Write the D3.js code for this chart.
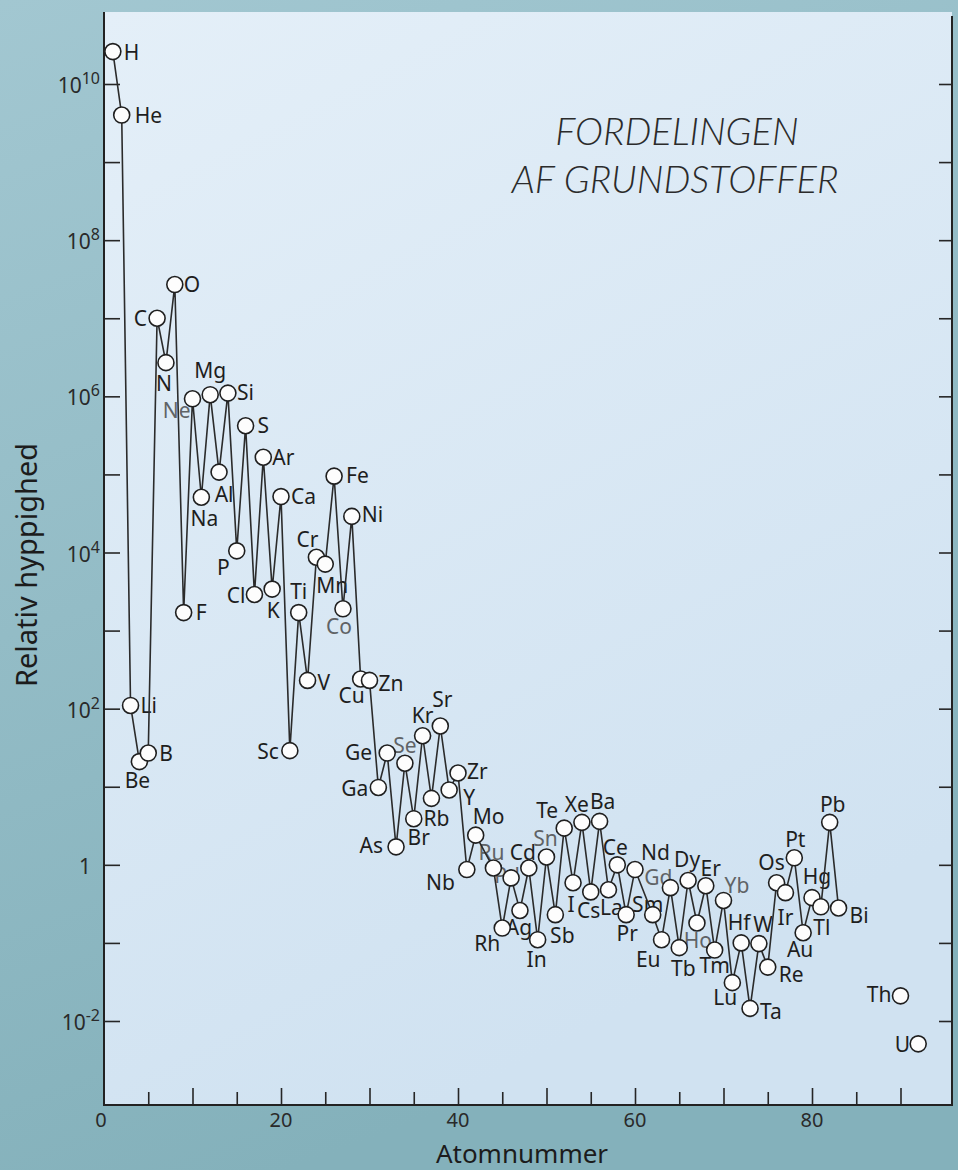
<!DOCTYPE html>
<html>
<head>
<meta charset="utf-8">
<script src="https://cdn.jsdelivr.net/npm/d3@7"></script>
<style>
  html, body { margin: 0; padding: 0; background: #8fbac5; }
  svg { display: block; }
</style>
</head>
<body>
<div id="chart-area"></div>
<script>
// data
const symbols = ['H','He','Li','Be','B','C','N','O','F','Ne','Na','Mg','Al','Si','P','S','Cl','Ar','K','Ca',
    'Sc','Ti','V','Cr','Mn','Fe','Co','Ni','Cu','Zn','Ga','Ge','As','Se','Br','Kr','Rb','Sr','Y','Zr',
    'Nb','Mo','Ru','Rh','Pd','Ag','Cd','In','Sn','Sb','Te','I','Xe','Cs','Ba','La','Ce','Pr','Nd',
    'Sm','Eu','Gd','Tb','Dy','Ho','Er','Tm','Yb','Lu','Hf','Ta','W','Re','Os','Ir','Pt','Au','Hg',
    'Tl','Pb','Bi','Th','U'];
const atomicNumbers = [1,2,3,4,5,6,7,8,9,10,11,12,13,14,15,16,17,18,19,20,
    21,22,23,24,25,26,27,28,29,30,31,32,33,34,35,36,37,38,39,40,
    41,42,44,45,46,47,48,49,50,51,52,53,54,55,56,57,58,59,60,
    62,63,64,65,66,67,68,69,70,71,72,73,74,75,76,77,78,79,80,
    81,82,83,90,92];
const abundance = [2.6e10, 4.0e9, 1.1e2, 21, 27, 1.0e7, 2.7e6, 2.7e7, 1.7e3, 9.3e5, 5.1e4, 1.05e6, 1.07e5, 1.1e6, 1.05e4, 4.2e5, 2.9e3, 1.66e5, 3.4e3, 5.2e4,
    29, 1.7e3, 2.3e2, 8.7e3, 7.1e3, 9.5e4, 1.9e3, 2.9e4, 2.4e2, 2.3e2, 9.8, 27, 1.7, 20, 3.9, 45, 7.1, 60, 9.1, 15,
    0.87, 2.4, 0.91, 0.155, 0.68, 0.26, 0.91, 0.11, 1.26, 0.23, 2.95, 0.59, 3.5, 0.45, 3.6, 0.48, 1.0, 0.23, 0.87,
    0.23, 0.11, 0.51, 0.087, 0.63, 0.18, 0.54, 0.081, 0.35, 0.031, 0.10, 0.0145, 0.098, 0.049, 0.59, 0.44, 1.23, 0.135, 0.38,
    0.29, 3.5, 0.28, 0.021, 0.0051];
// elements joined by the zig-zag line (Th and U stand alone)
const lastConnected = 83;

const yTickPowers = [-2, -1, 0, 1, 2, 3, 4, 5, 6, 7, 8, 9, 10];
const yLabelPowers = [-2, 0, 2, 4, 6, 8, 10];
const xMajorTicks = [10, 20, 30, 40, 50, 60, 70, 80, 90];
const xMinorTicks = [5, 15, 25, 35, 45, 55, 65, 75, 85];
const xTickLabels = [0, 20, 40, 60, 80];

// label placement relative to each dot: [dx, dy, anchor]
const R = [11, 8, 'start'], L = [-10, 8, 'end'];
const labelPlace = {
    H: R, He: [13, 8, 'start'], Li: [10, 8, 'start'], Be: [-2, 26, 'middle'], B: R, C: L, N: [-2, 28, 'middle'],
    O: [9, 7, 'start'], F: [12, 7, 'start'], Ne: [-2, 19, 'end'], Na: [3, 29, 'middle'], Mg: [0, -17, 'middle'],
    Al: [5, 30, 'middle'], Si: [9, 7, 'start'], P: [-7, 24, 'end'], S: [12, 7, 'start'], Cl: [-9, 9, 'end'],
    Ar: [9, 8, 'start'], K: [1, 29, 'middle'], Ca: [10, 7, 'start'], Sc: [-11, 8, 'end'], Ti: [0, -14, 'middle'],
    V: [10, 10, 'start'], Cr: [2, -10, 'end'], Mn: [7, 29, 'middle'], Fe: [12, 7, 'start'], Co: [-4, 25, 'middle'],
    Ni: [10, 6, 'start'], Cu: [4, 24, 'end'], Zn: [9, 11, 'start'], Ga: [-10, 9, 'end'], Ge: [-15, 7, 'end'],
    As: [-13, 6, 'end'], Se: [0, -10, 'middle'], Br: [5, 26, 'middle'], Kr: [0, -13, 'middle'], Rb: [5, 28, 'middle'],
    Sr: [2, -19, 'middle'], Y: [14, 15, 'start'], Zr: [9, 6, 'start'], Nb: [-12, 20, 'end'], Mo: [-3, -11, 'start'],
    Ru: [-2, -8, 'middle'], Rh: [-2, 23, 'end'], Pd: [-4, 5, 'middle'], Ag: [-1, 24, 'middle'], Cd: [-6, -8, 'middle'],
    In: [-1, 27, 'middle'], Sn: [-1, -11, 'middle'], Sb: [7, 28, 'middle'], Te: [-6, -10, 'end'], I: [-2, 29, 'middle'],
    Xe: [-5, -10, 'middle'], Cs: [-2, 26, 'middle'], Ba: [3, -12, 'middle'], La: [3, 25, 'middle'], Ce: [-2, -10, 'middle'],
    Pr: [1, 26, 'middle'], Nd: [6, -10, 'start'], Sm: [-5, -3, 'middle'], Eu: [-1, 27, 'end'], Gd: [-12, -3, 'middle'],
    Tb: [4, 28, 'middle'], Dy: [-1, -14, 'middle'], Ho: [1, 25, 'middle'], Er: [5, -10, 'middle'], Tm: [0, 23, 'middle'],
    Yb: [1, -7, 'start'], Lu: [-7, 22, 'middle'], Hf: [-2, -13, 'middle'], Ta: [10, 11, 'start'], W: [4, -12, 'middle'],
    Re: [11, 15, 'start'], Os: [-5, -13, 'middle'], Ir: [0, 32, 'middle'], Pt: [1, -11, 'middle'], Au: [-3, 24, 'middle'],
    Hg: [5, -14, 'middle'], Tl: [1, 28, 'middle'], Pb: [3, -10, 'middle'], Bi: [11, 15, 'start'],
    Th: [-9, 6, 'end'], U: [-8, 8, 'end']
};
const greyLabels = ['Ne', 'Co', 'Se', 'Pd', 'Sn', 'Ru', 'Gd', 'Ho', 'Yb'];

const W = 958, H = 1170;
const plot = { left: 104, right: 952, top: 12, bottom: 1105 };

const svg = d3.select('#chart-area')
    .append('svg')
        .attr('width', W)
        .attr('height', H);

const defs = svg.append('defs');
const bgGrad = defs.append('linearGradient').attr('id', 'bg')
    .attr('x1', 0).attr('y1', 0).attr('x2', 0.3).attr('y2', 1);
bgGrad.append('stop').attr('offset', 0).attr('stop-color', '#a2c7d1');
bgGrad.append('stop').attr('offset', 1).attr('stop-color', '#84b1bb');
const plotGrad = defs.append('linearGradient').attr('id', 'plotbg')
    .attr('x1', 0).attr('y1', 0).attr('x2', 0.4).attr('y2', 1);
plotGrad.append('stop').attr('offset', 0).attr('stop-color', '#e4eff8');
plotGrad.append('stop').attr('offset', 1).attr('stop-color', '#d0e2f1');

svg.append('rect').attr('width', W).attr('height', H).attr('fill', 'url(#bg)');
svg.append('rect')
    .attr('x', plot.left).attr('y', plot.top)
    .attr('width', plot.right - plot.left).attr('height', plot.bottom - plot.top)
    .attr('fill', 'url(#plotbg)');

// scales
const x = d3.scaleLinear().domain([0, 96]).range([plot.left, 953.6]);
const y = d3.scaleLog().domain([1e-2, 1e10]).range([1021, 84]);

const decades = yTickPowers.map(p => Math.pow(10, p));

// axes
svg.append('g').attr('class', 'y axis left')
    .attr('transform', `translate(${plot.left}, 0)`)
    .call(d3.axisLeft(y).tickValues(decades).tickSize(-16).tickFormat(''))
    .call(a => a.select('.domain').remove());

svg.append('g').attr('class', 'y axis right')
    .attr('transform', `translate(${plot.right}, 0)`)
    .call(d3.axisRight(y).tickValues(decades).tickSize(-13).tickFormat(''))
    .call(a => a.select('.domain').remove());

svg.append('g').attr('class', 'x axis major')
    .attr('transform', `translate(0, ${plot.bottom})`)
    .call(d3.axisBottom(x).tickValues(xMajorTicks).tickSize(-17).tickFormat(''))
    .call(a => a.select('.domain').remove());
svg.append('g').attr('class', 'x axis minor')
    .attr('transform', `translate(0, ${plot.bottom})`)
    .call(d3.axisBottom(x).tickValues(xMinorTicks).tickSize(-13).tickFormat(''))
    .call(a => a.select('.domain').remove());

svg.selectAll('.axis line').attr('stroke', '#262626').attr('stroke-width', 1.6);

// frame: left, bottom, right
svg.append('path')
    .attr('d', `M${plot.left},${plot.top}V${plot.bottom}H${plot.right}V${plot.top + 4}`)
    .attr('fill', 'none')
    .attr('stroke', '#222')
    .attr('stroke-width', 2);

// tick labels
const font = "'Noto Sans', 'Open Sans', sans-serif";
const yl = svg.append('g').attr('class', 'y tick-labels')
    .attr('font-family', font).attr('fill', '#2a2a2a').attr('text-anchor', 'end');
yLabelPowers.forEach(p => {
    const t = yl.append('text')
        .attr('x', 100)
        .attr('y', y(Math.pow(10, p)) + 9)
        .attr('font-size', 21);
    if (p === 0) {
        t.attr('x', 91).text('1');
    } else {
        t.append('tspan').text('10');
        t.append('tspan').attr('font-size', 16).attr('dy', -9).text(p);
    }
});

svg.append('g').attr('class', 'x tick-labels')
    .attr('font-family', font).attr('fill', '#2a2a2a').attr('text-anchor', 'middle')
    .selectAll('text')
    .data(xTickLabels)
    .enter()
        .append('text')
            .attr('x', d => x(d) - (d === 0 ? 3 : 0))
            .attr('y', 1127)
            .attr('font-size', 20)
            .text(d => d);

// axis titles
svg.append('text')
    .attr('x', 522).attr('y', 1163)
    .attr('font-family', font).attr('font-size', 26).attr('fill', '#1c1c1c')
    .attr('text-anchor', 'middle')
    .text('Atomnummer');

svg.append('text')
    .attr('transform', 'translate(37, 565) rotate(-90)')
    .attr('font-family', font).attr('font-size', 29).attr('fill', '#1c1c1c')
    .attr('text-anchor', 'middle')
    .text('Relativ hyppighed');

// title
const title = svg.append('text')
    .attr('font-family', "Lato, 'Open Sans', sans-serif")
    .attr('font-style', 'italic').attr('font-weight', 300)
    .attr('font-size', 38).attr('fill', '#2b2b2b')
    .attr('text-anchor', 'middle');
title.append('tspan').attr('x', 677).attr('y', 145).text('FORDELINGEN');
title.append('tspan').attr('x', 675).attr('y', 193).text('AF GRUNDSTOFFER');

// points
const points = symbols.map((s, i) => ({ sym: s, z: atomicNumbers[i], v: abundance[i] }));

// labels first, dots sit on top of them
svg.append('g').attr('class', 'labels')
    .attr('font-family', font).attr('font-size', 21)
    .selectAll('text')
    .data(points)
    .enter()
        .append('text')
            .attr('x', d => x(d.z) + labelPlace[d.sym][0])
            .attr('y', d => y(d.v) + labelPlace[d.sym][1])
            .attr('text-anchor', d => labelPlace[d.sym][2])
            .attr('fill', d => greyLabels.includes(d.sym) ? '#606366' : '#1e1e1e')
            .text(d => d.sym);

const line = d3.line()
    .x(d => x(d.z))
    .y(d => y(d.v));

svg.append('path')
    .datum(points.filter(d => d.z <= lastConnected))
    .attr('d', line)
    .attr('fill', 'none')
    .attr('stroke', '#2b2b2b')
    .attr('stroke-width', 1.6)
    .attr('stroke-linejoin', 'round');

svg.append('g').attr('class', 'dots')
    .selectAll('circle')
    .data(points)
    .enter()
        .append('circle')
            .attr('cx', d => x(d.z))
            .attr('cy', d => y(d.v))
            .attr('r', 8)
            .attr('fill', '#fdfdfd')
            .attr('stroke', '#1f1f1f')
            .attr('stroke-width', 1.6);
</script>
</body>
</html>
